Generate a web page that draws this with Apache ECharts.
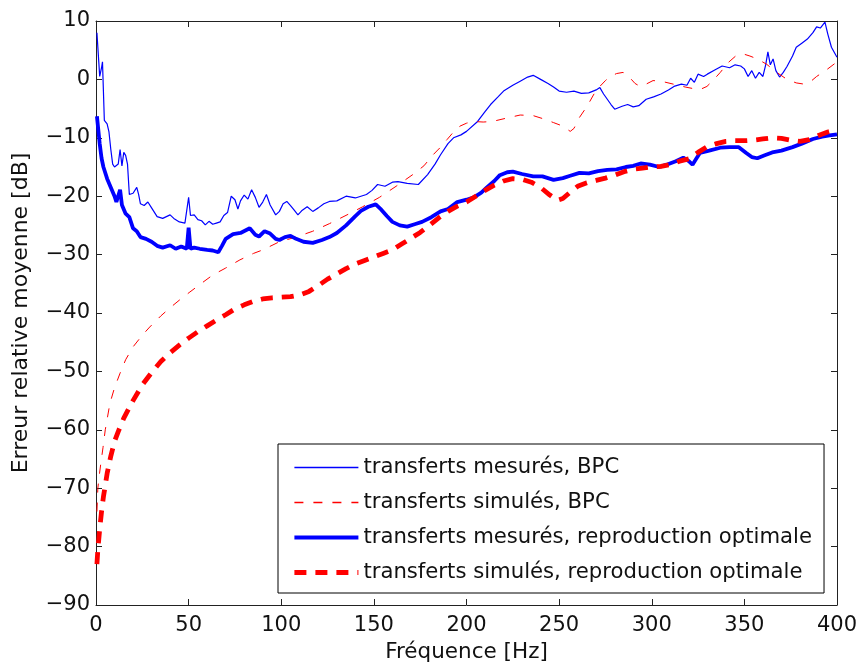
<!DOCTYPE html>
<html>
<head>
<meta charset="utf-8">
<script src="https://cdn.jsdelivr.net/npm/echarts@6/dist/echarts.min.js"></script>
<style>
  html, body { margin: 0; padding: 0; background: #fff; }
  #chart { width: 861px; height: 669px; }
</style>
</head>
<body>
<div id="chart"></div>
<script>
// 图例名称
const seriesNames = [
  'transferts mesurés, BPC',
  'transferts simulés, BPC',
  'transferts mesurés, reproduction optimale',
  'transferts simulés, reproduction optimale'
];

// transferts mesurés, BPC
const mesBpcF = [0.5, 1.5, 2, 3, 3.5, 4, 4.5, 6, 7, 8, 9, 10, 11, 12, 13, 14, 15, 16, 17, 18, 20, 22, 23, 24, 26, 28, 30, 33, 36, 38, 40, 42, 45, 48, 50, 51, 53, 55, 57, 59, 61, 63, 65, 67, 69, 71, 73, 75, 76.6, 78, 80, 82, 84, 86, 88, 90, 92, 94, 97, 99, 101, 103, 105, 107, 109, 111, 114, 117, 120, 123, 126, 130, 135, 140, 146, 149, 152, 156, 160, 163, 168, 174, 179, 183, 186, 190, 193, 197, 200, 206, 210, 213, 217, 220, 225, 229, 233, 236, 240, 244, 247, 250, 254, 258, 262, 266, 270, 272, 274, 276, 278, 280, 284, 287, 290, 293, 297, 301, 305, 309, 312, 316, 319, 321, 323, 325, 328, 330, 334, 338, 342, 345, 348, 350, 352, 354, 356, 358, 360, 361.5, 362.7, 364, 365.5, 367, 369, 371, 373, 376, 378, 381, 384, 387, 389, 391, 393.5, 395, 397, 400];
const mesBpcV = [8.0, 3, 0.5, 2, 3, -2, -7, -7.6, -9, -12, -14.5, -15, -14.8, -14.5, -12, -14.8, -12.5, -13, -14.5, -19.7, -19.5, -18.5, -19.7, -21.3, -21.6, -21, -22, -23.5, -23.8, -23.5, -23.2, -23.8, -24.4, -24.6, -20.2, -23.3, -23.2, -24, -24.2, -24.9, -24.3, -24.8, -24.6, -24.4, -23.3, -22.8, -20, -20.6, -22.2, -20.8, -19.8, -20.5, -18.9, -20.2, -21.9, -21, -19.7, -21.5, -23.2, -22.6, -21.3, -20.9, -21.6, -22.4, -23.2, -22.5, -21.8, -22.6, -22, -21.3, -20.9, -20.8, -20, -20.3, -19.7, -19.0, -18, -18.3, -17.6, -17.5, -17.8, -18.0, -16.3, -14.5, -12.9, -11, -10, -9.5, -8.9, -7.2, -5.5, -4.3, -3, -2, -1, -0.3, 0.4, 0.7, 0.0, -0.7, -1.3, -2, -2.2, -2.0, -2.4, -2.3, -1.8, -1.4, -2.5, -3.4, -4.3, -5.1, -4.6, -4.3, -4.7, -4.5, -3.4, -3.0, -2.5, -1.8, -1.2, -0.8, -1.0, 0.2, -0.5, 0.9, 0.5, 0.9, 1.6, 2.3, 2.0, 2.5, 2.3, 1.8, 0.5, 1.5, 0.2, 1.2, 0.5, 2.5, 4.7, 2.5, 3.5, 1.5, 0.4, 1.2, 2.2, 4.0, 5.5, 6.2, 6.9, 8.0, 9.0, 8.8, 9.8, 7.8, 5.5, 3.8];

// transferts simulés, BPC
const simBpcF = [0.5, 1, 1.7, 2.5, 3.8, 5, 7.5, 10, 13, 16, 20, 25, 29, 35, 40, 45, 50.7, 57, 63, 70, 77.7, 85, 90, 99, 108, 117, 126, 135.5, 144, 153, 162, 171, 177, 182, 186, 189.5, 193, 196.5, 200, 203.5, 209, 214, 222, 229, 236, 242, 247, 252, 256, 258, 261, 264, 266.7, 269, 272, 275, 277.5, 281, 284.5, 287, 289, 291, 293.7, 297, 300.7, 305, 311.5, 318, 324.4, 327, 329.8, 333, 337, 341, 346, 350, 353, 357, 362, 367, 373, 378, 382, 386, 389, 394.6, 400];
const simBpcV = [-74, -70, -68, -66, -63, -60, -55.5, -52.8, -50.3, -48, -45.8, -43.8, -42.4, -40.5, -39.1, -37.8, -36.4, -34.9, -33.5, -32.3, -30.9, -29.8, -29.2, -27.8, -27, -26, -24.7, -23.2, -21.8, -20.2, -18.3, -16.3, -14.8, -12.9, -11.6, -10.3, -9.0, -8, -7.5, -7.2, -7.3, -7.2, -6.6, -6.1, -6.2, -6.8, -7.4, -8.0, -8.9, -8.4, -6.5, -5.1, -3.7, -2.4, -1.2, -0.2, 0.5, 1.0, 1.2, 0.8, 0, -0.7, -1.2, -0.8, -0.2, -0.3, -0.8, -1.3, -1.7, -1.6, -1.2, -0.2, 1.2, 2.8, 4.2, 4.3, 4.0, 3.5, 2.6, 1.3, 0, -0.6, -0.8, -0.3, 0.5, 1.7, 3.0];

// transferts mesurés, reproduction optimale
const mesOptF = [0.5, 1, 2, 3, 4, 6, 8, 10, 11, 13, 14, 16, 18, 20, 22, 24, 27, 30, 33, 36, 40, 43, 46, 49, 50, 51, 53, 56, 60, 63, 66, 68, 70, 74, 78, 83, 86, 88, 91, 94, 97, 99, 102, 105, 108, 112, 117, 122, 126, 130, 135, 140, 143, 147, 151, 154, 157, 160, 164, 168, 172, 176, 181, 186, 190, 195, 200, 204, 208, 211, 215, 218, 222, 225, 230, 236, 241, 247, 252, 256, 261, 266, 271, 276, 281, 286, 290, 294, 299, 304, 308, 313, 317, 320, 322, 324, 326, 331, 337, 342, 347, 351, 354, 357, 361, 365, 370, 376, 381, 387, 392, 396, 400];
const mesOptV = [-6.3, -6.5, -11, -13.5, -15, -17, -18.5, -20, -21, -18.9, -21.5, -23, -23.6, -25.5, -26, -27, -27.3, -27.8, -28.5, -28.8, -28.4, -29, -28.6, -29, -25.4, -29, -28.8, -29, -29.2, -29.3, -29.6, -28.5, -27.3, -26.5, -26.3, -25.5, -26.6, -26.9, -26, -26.4, -27.3, -27.5, -27, -26.8, -27.3, -27.8, -28, -27.5, -27, -26.3, -25, -23.4, -22.5, -21.8, -21.4, -22.3, -23.4, -24.4, -25, -25.2, -24.8, -24.4, -23.6, -22.6, -22.2, -21, -20.6, -20.2, -19.4, -18.5, -17.4, -16.4, -15.9, -15.8, -16.2, -16.6, -16.6, -17.2, -16.9, -16.5, -16.0, -16.1, -15.7, -15.5, -15.4, -15.0, -14.8, -14.4, -14.6, -15.0, -14.6, -14.0, -13.4, -14.0, -14.6, -13.6, -12.6, -12.2, -11.7, -11.6, -11.6, -12.6, -13.3, -13.5, -13.0, -12.5, -12.2, -11.6, -11.0, -10.2, -9.8, -9.6, -9.4];

// transferts simulés, reproduction optimale
const simOptF = [0.5, 1, 2, 3, 4, 5, 6, 8, 10, 12, 15, 20, 25, 30, 35, 40, 45, 50, 55, 60, 65, 70, 75, 80, 85, 90, 95, 100, 105, 110, 115, 120, 125, 130, 135, 140, 145, 150, 155, 160, 165, 170, 175, 180, 185, 190, 195, 200, 205, 210, 215, 220, 225, 230, 235, 240, 245, 249, 252, 256, 260, 265, 270, 275, 280, 285, 290, 295, 300, 305, 310, 315, 320, 325, 330, 335, 340, 345, 350, 355, 360, 365, 370, 375, 380, 385, 390, 395, 400];
const simOptV = [-83, -80.5, -77, -74, -71.5, -69.5, -67.5, -64.5, -62, -60.3, -58, -55, -52.3, -50.2, -48.3, -46.8, -45.5, -44.3, -43.2, -42.2, -41.2, -40.3, -39.3, -38.6, -38, -37.6, -37.4, -37.3, -37.2, -36.9, -36.3, -35.3, -34.2, -33.3, -32.4, -31.6, -31, -30.4, -29.8, -29.2, -28.2, -27.2, -26.2, -25, -23.7, -22.6, -21.7, -21, -20, -19, -18.1, -17.4, -17, -17.1, -17.6, -18.5, -19.8, -20.7, -20.4, -19.3, -18.3, -17.7, -17.3, -16.9, -16.4, -15.8, -15.4, -15.2, -15.0, -14.9, -14.6, -14.0, -13.6, -12.5, -11.5, -11.0, -10.6, -10.5, -10.5, -10.4, -10.2, -10.0, -10.1, -10.4, -10.6, -10.3, -9.6, -9.0, -8.6];

function pairs(xs, ys) {
  return xs.map((x, i) => [x, ys[i]]);
}

const font = 'DejaVu Sans';
const blue = '#0000ff';
const red = '#ff0000';
const chart = echarts.init(document.getElementById('chart'));

// 线型：细实线、细虚线、粗实线、粗虚线
const styles = [
  { color: blue, width: 1.2, type: 'solid' },
  { color: red, width: 1, type: [9, 10] },
  { color: blue, width: 3.8, type: 'solid' },
  { color: red, width: 4.8, type: [12, 9] }
];

// 坐标轴：下/左带标签，上/右只画刻度
const baseX = {
  type: 'value', min: 0, max: 400, interval: 50,
  axisLine: { show: true, onZero: false, lineStyle: { color: '#222', width: 1 } },
  axisTick: { show: true, inside: true, length: 6, lineStyle: { color: '#222' } },
  splitLine: { show: false }
};
const baseY = {
  type: 'value', min: -90, max: 10, interval: 10,
  axisLine: { show: true, onZero: false, lineStyle: { color: '#222', width: 1 } },
  axisTick: { show: true, inside: true, length: 6, lineStyle: { color: '#222' } },
  splitLine: { show: false }
};

let option = {
  animation: false,
  backgroundColor: '#fff',
  grid: { left: 96, right: 24, top: 21, bottom: 64 },
  legend: {
    orient: 'vertical',
    left: 278,
    top: 444,
    padding: [13, 12, 10, 14],
    itemGap: 14,
    itemWidth: 64,
    itemHeight: 20,
    borderColor: '#000',
    borderWidth: 1,
    backgroundColor: '#fff',
    itemStyle: { opacity: 0 },
    textStyle: { fontFamily: font, fontSize: 21.2, color: '#111', lineHeight: 20 },
    data: seriesNames.map((n, i) => ({
      name: n,
      itemStyle: { opacity: 0 },
      lineStyle: { color: styles[i].color, width: Math.max(styles[i].width, 1.4), type: styles[i].type }
    }))
  },
  xAxis: [
    Object.assign({}, baseX, {
      position: 'bottom',
      name: 'Fréquence [Hz]',
      nameLocation: 'middle',
      nameGap: 36,
      nameTextStyle: { fontFamily: font, fontSize: 21.5, color: '#111' },
      axisLabel: { margin: 10, fontFamily: font, fontSize: 21, color: '#111' }
    }),
    Object.assign({}, baseX, { position: 'top', axisLabel: { show: false } })
  ],
  yAxis: [
    Object.assign({}, baseY, {
      position: 'left',
      name: 'Erreur relative moyenne [dB]',
      nameLocation: 'middle',
      nameGap: 64,
      nameTextStyle: { fontFamily: font, fontSize: 22, color: '#111' },
      axisLabel: {
        margin: 6, fontFamily: font, fontSize: 21, color: '#111',
        formatter: v => String(v).replace('-', '\u2212')
      }
    }),
    Object.assign({}, baseY, { position: 'right', axisLabel: { show: false } })
  ],
  series: [
    { name: seriesNames[0], type: 'line', symbol: 'none', data: pairs(mesBpcF, mesBpcV) },
    { name: seriesNames[1], type: 'line', symbol: 'none', data: pairs(simBpcF, simBpcV) },
    { name: seriesNames[2], type: 'line', symbol: 'none', data: pairs(mesOptF, mesOptV) },
    { name: seriesNames[3], type: 'line', symbol: 'none', data: pairs(simOptF, simOptV) }
  ].map((s, i) => Object.assign(s, {
    lineStyle: styles[i],
    itemStyle: { color: styles[i].color }
  }))
};
chart.setOption(option);
</script>
</body>
</html>
